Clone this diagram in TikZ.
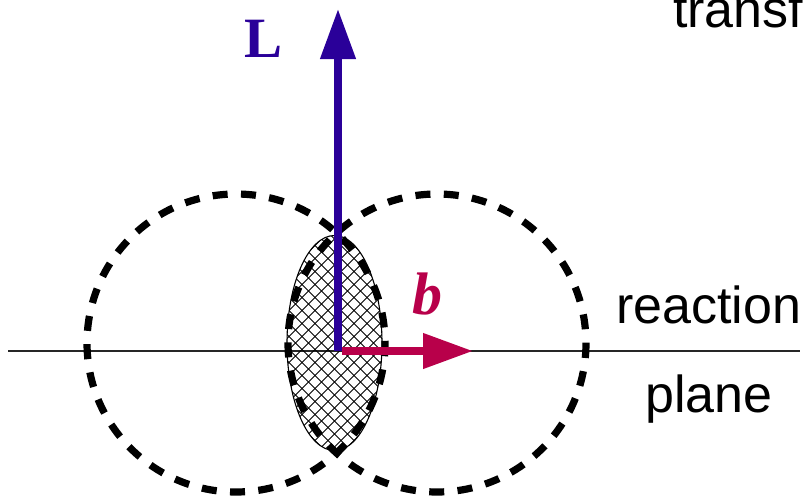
\documentclass[tikz,border=0pt]{standalone}
\usepackage{fontspec}
\setmainfont{Liberation Sans}
\newfontfamily\serifbold{Liberation Serif}
\usetikzlibrary{arrows.meta}
\definecolor{lblue}{RGB}{42,0,153}
\definecolor{bred}{RGB}{184,0,74}
\tikzset{
  planeline/.style={line width=1.1pt, black!85},
  ringdash/.style={line width=7.2pt, dash pattern=on 15pt off 13.36pt},
  hatchline/.style={line width=0.9pt, black},
  lensrim/.style={line width=1.1pt, black},
  bigarrow/.style={line width=7.5pt, -{Triangle[length=50pt,width=34pt]}},
  labeltext/.style={inner sep=0pt, anchor=base west, font=\fontsize{52}{60}\selectfont}
}
\begin{document}
\begin{tikzpicture}[x=1pt,y=-1pt]
\useasboundingbox (0,0) rectangle (806,496);
\clip (0,0) rectangle (806,496);
% reaction plane line
\coordinate (pl) at (8,351);
\coordinate (pr) at (800,351);
\draw[planeline] (pl) -- (pr);
% hatched overlap
\begin{scope}
  \clip (334.5,343) ellipse [x radius=47.5, y radius=107.5];
  \foreach \k in {-14,...,14} {
    \draw[hatchline] ({334.5+\k*13-120},{343-120}) -- ++(240,240);
    \draw[hatchline] ({334.5+\k*13-120},{343+120}) -- ++(240,-240);
  }
\end{scope}
\coordinate (lens) at (334.5,343);
\draw[lensrim] (lens) ellipse [x radius=47.5, y radius=107.5];
% nuclei
\coordinate (nA) at (236,343);
\coordinate (nB) at (437,343);
\draw[ringdash, dash phase=1.8pt] (nA) circle [radius=149];
\draw[ringdash] (nB) circle [radius=149];
% arrows
\coordinate (o) at (338,351);
\coordinate (ob) at (342,351);
\coordinate (ltip) at (338,9);
\coordinate (btip) at (473,351);
\draw[bigarrow, lblue] (o) -- (ltip);
\draw[bigarrow, bred] (ob) -- (btip);
% labels
\node[inner sep=0pt, text=lblue, font=\serifbold\bfseries\fontsize{57}{60}\selectfont] (L) at (263.5,39) {L};
\node[inner sep=0pt, text=bred, font=\serifbold\bfseries\itshape\fontsize{60}{64}\selectfont] (b) at (427,294) {b};
\node[labeltext] (trans) at (673,27) {transf};
\node[labeltext] (react) at (616,323) {reaction};
\node[labeltext] (plane) at (645,412) {plane};
\end{tikzpicture}
\end{document}
